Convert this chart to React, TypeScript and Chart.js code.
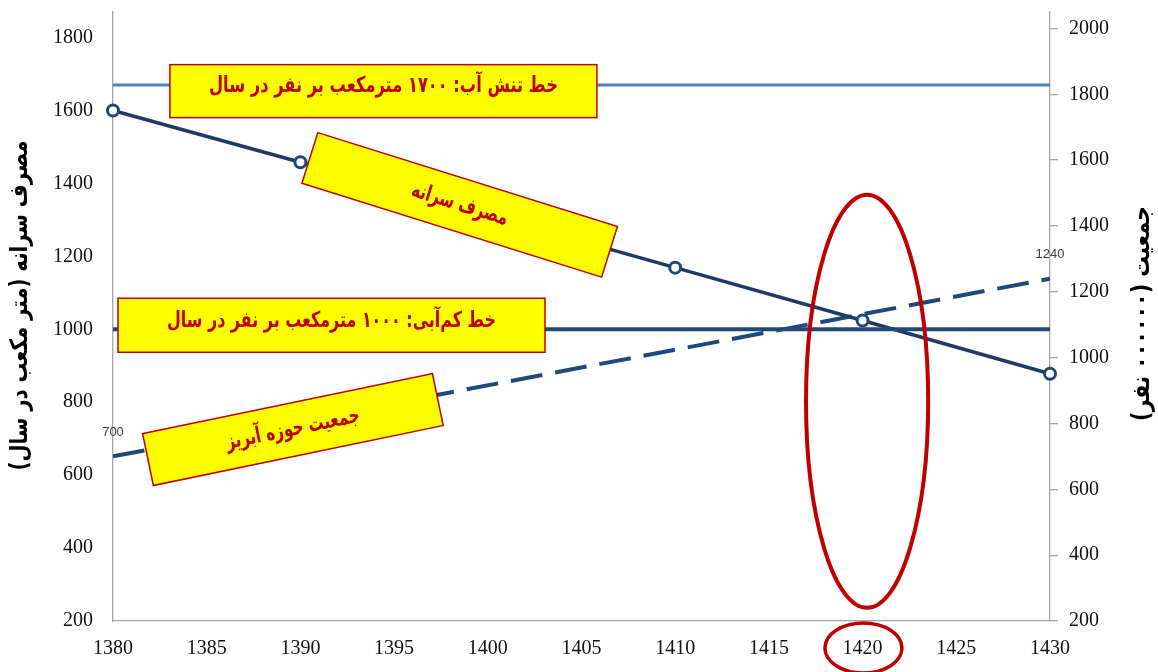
import React, { useEffect, useRef } from 'react';
import { Chart, registerables } from 'chart.js';

Chart.register(...registerables);

// ---- data ----
const consumptionYears = [1380, 1390, 1410, 1420, 1430];
const perCapita = [1600, 1458, 1169, 1024, 878];
const populationYears = [1380, 1430];
const population = [700, 1240];
const thresholdYears = [1380, 1430];
const stressLevel = [1670, 1670];
const scarcityLevel = [1000, 1000];

const xMin = 1380;
const xMax = 1430;
const xStep = 5;
const leftMin = 200;
const leftMax = 1870;
const rightMin = 200;
const rightMax = 2050;
const yStep = 200;

const leftAxisTitle = 'مصرف سرانه (متر مکعب در سال)';
const rightAxisTitle = 'جمعیت (۰۰۰۰۰۰ نفر)';
const stressText = 'خط تنش آب: ۱۷۰۰ مترمکعب بر نفر در سال';
const scarcityText = 'خط کم‌آبی: ۱۰۰۰ مترمکعب بر نفر در سال';
const perCapitaText = 'مصرف سرانه';
const populationText = 'جمعیت حوزه آبریز';

// ---- annotation layout (data-anchored) ----
const boxes = [
  { text: stressText, cx: 1394.43, cy: 1653, w: 427, h: 53, angle: 0, textW: 349, size: 22, dy: -5 },
  { text: scarcityText, cx: 1391.66, cy: 1011, w: 427, h: 54, angle: 0, textW: 329, size: 22, dy: -4 },
  { text: perCapitaText, cx: 1398.5, cy: 1341, w: 314, h: 53, angle: 17.4, textW: 100, size: 22, dy: 0 },
  { text: populationText, cx: 1389.6, cy: 725, w: 296, h: 53, angle: -11.7, textW: 136, size: 22, dy: 0 },
];
const bigEllipse = { x0: 1416.98, x1: 1423.5, y0: 236, y1: 1369 };
const smallEllipse = { x0: 1417.99, x1: 1422.1, dyCenter: 27, ry: 25 };

const NAVY = '#1f3a64';
const BLUE_DARK = '#1f497d';
const BLUE_LIGHT = '#4f81bd';
const RED = '#c00000';
const AXIS = '#a6a6a6';
const ARABIC = '"DejaVu Sans", sans-serif';
const SERIF = '"Liberation Serif", "Times New Roman", serif';

function drawFitted(ctx: CanvasRenderingContext2D, text: string, x: number, y: number, size: number, target: number) {
  ctx.font = `bold ${size}px ${ARABIC}`;
  const w = ctx.measureText(text).width;
  if (w > target) ctx.fillText(text, x, y, target);
  else ctx.fillText(text, x, y);
}

const annotationPlugin = {
  id: 'annotations',
  afterDatasetsDraw(chart: any) {
    const { ctx, scales, chartArea } = chart;
    const xs = scales.x;
    const yl = scales.y;

    // data labels on population line
    const meta = chart.getDatasetMeta(3);
    ctx.save();
    ctx.font = `13px "Liberation Sans", sans-serif`;
    ctx.fillStyle = '#404040';
    ctx.textAlign = 'center';
    ctx.textBaseline = 'middle';
    meta.data.forEach((pt: any, i: number) => {
      ctx.fillText(String(population[i]), pt.x, pt.y - 24);
    });
    ctx.restore();

    // boxes
    boxes.forEach((b) => {
      const px = xs.getPixelForValue(b.cx);
      const py = yl.getPixelForValue(b.cy);
      ctx.save();
      ctx.translate(px, py);
      ctx.rotate((b.angle * Math.PI) / 180);
      ctx.fillStyle = '#ffff00';
      ctx.fillRect(-b.w / 2, -b.h / 2, b.w, b.h);
      ctx.strokeStyle = RED;
      ctx.lineWidth = 1.5;
      ctx.strokeRect(-b.w / 2, -b.h / 2, b.w, b.h);
      ctx.fillStyle = RED;
      ctx.textAlign = 'center';
      ctx.textBaseline = 'middle';
      (ctx as any).direction = 'rtl';
      drawFitted(ctx, b.text, 0, b.dy, b.size, b.textW);
      ctx.restore();
    });

    // ellipses
    ctx.save();
    ctx.strokeStyle = RED;
    ctx.lineWidth = 4;
    const ex0 = xs.getPixelForValue(bigEllipse.x0);
    const ex1 = xs.getPixelForValue(bigEllipse.x1);
    const ey0 = yl.getPixelForValue(bigEllipse.y1);
    const ey1 = yl.getPixelForValue(bigEllipse.y0);
    ctx.beginPath();
    ctx.ellipse((ex0 + ex1) / 2, (ey0 + ey1) / 2, (ex1 - ex0) / 2, (ey1 - ey0) / 2, 0, 0, Math.PI * 2);
    ctx.stroke();
    const sx0 = xs.getPixelForValue(smallEllipse.x0);
    const sx1 = xs.getPixelForValue(smallEllipse.x1);
    ctx.lineWidth = 3.5;
    ctx.beginPath();
    ctx.ellipse((sx0 + sx1) / 2, chartArea.bottom + smallEllipse.dyCenter, (sx1 - sx0) / 2, smallEllipse.ry, 0, 0, Math.PI * 2);
    ctx.stroke();
    ctx.restore();
  },
  afterDraw(chart: any) {
    const { ctx, chartArea } = chart;
    const midY = (chartArea.top + chartArea.bottom) / 2;
    ctx.save();
    ctx.fillStyle = '#000';
    ctx.textAlign = 'center';
    ctx.textBaseline = 'middle';
    (ctx as any).direction = 'rtl';
    // left title
    ctx.save();
    ctx.translate(21, midY - 11);
    ctx.rotate(-Math.PI / 2);
    drawFitted(ctx, leftAxisTitle, 0, 0, 24, 330);
    ctx.restore();
    // right title
    ctx.save();
    ctx.translate(chartArea.right + 93, midY - 3);
    ctx.rotate(-Math.PI / 2);
    drawFitted(ctx, rightAxisTitle, 0, 0, 24, 215);
    ctx.restore();
    ctx.restore();
  },
};

const noPadding = (s: any) => {
  s.paddingTop = 0;
  s.paddingBottom = 0;
  s.paddingLeft = 0;
  s.paddingRight = 0;
};

export default function App() {
  const canvasRef = useRef<HTMLCanvasElement | null>(null);

  useEffect(() => {
    const canvas = canvasRef.current;
    if (!canvas) return;
    const tickFont = { family: SERIF, size: 20 };
    const chart = new Chart(canvas, {
      type: 'line',
      data: {
        datasets: [
          {
            label: 'stress',
            data: thresholdYears.map((x, i) => ({ x, y: stressLevel[i] })),
            yAxisID: 'y',
            borderColor: BLUE_LIGHT,
            borderWidth: 3,
            pointRadius: 0,
          },
          {
            label: 'scarcity',
            data: thresholdYears.map((x, i) => ({ x, y: scarcityLevel[i] })),
            yAxisID: 'y',
            borderColor: BLUE_DARK,
            borderWidth: 4,
            pointRadius: 0,
          },
          {
            label: 'per capita',
            data: consumptionYears.map((x, i) => ({ x, y: perCapita[i] })),
            yAxisID: 'y',
            borderColor: NAVY,
            borderWidth: 3.5,
            pointRadius: 5.5,
            pointBorderWidth: 3,
            pointBorderColor: BLUE_DARK,
            pointBackgroundColor: '#ffffff',
            clip: false,
          },
          {
            label: 'population',
            data: populationYears.map((x, i) => ({ x, y: population[i] })),
            yAxisID: 'y1',
            borderColor: BLUE_DARK,
            borderWidth: 4,
            borderDash: [32, 13],
            pointRadius: 0,
          },
        ],
      },
      options: {
        animation: false,
        responsive: false,
        maintainAspectRatio: false,
        layout: { padding: { top: 12, left: 0, right: 0, bottom: 0 } },
        plugins: { legend: { display: false }, tooltip: { enabled: false } },
        scales: {
          x: {
            type: 'linear',
            min: xMin,
            max: xMax,
            ticks: { stepSize: xStep, font: tickFont, color: '#111', padding: 16, callback: (v: any) => String(v) },
            grid: { display: false, drawTicks: false },
            border: { color: AXIS, width: 1.3 },
            afterFit: (s: any) => { s.height = 51; noPadding(s); },
          },
          y: {
            type: 'linear',
            position: 'left',
            min: leftMin,
            max: leftMax,
            ticks: { stepSize: yStep, includeBounds: false, font: tickFont, color: '#111', padding: 20, callback: (v: any) => String(v) },
            grid: { display: false, drawTicks: false },
            border: { color: AXIS, width: 1.3 },
            afterFit: (s: any) => { s.width = 113; noPadding(s); },
          },
          y1: {
            type: 'linear',
            position: 'right',
            min: rightMin,
            max: rightMax,
            ticks: { stepSize: yStep, includeBounds: false, font: tickFont, color: '#111', padding: 11, callback: (v: any) => String(v) },
            grid: { drawOnChartArea: false, drawTicks: true, tickLength: 8, color: AXIS, lineWidth: 1.3 },
            border: { color: AXIS, width: 1.3 },
            afterFit: (s: any) => { s.width = 108; noPadding(s); },
          },
        },
      } as any,
      plugins: [annotationPlugin],
    });
    return () => chart.destroy();
  }, []);

  return (
    <div style={{ position: 'absolute', left: 0, top: 0, width: 1158, height: 672, background: '#fff' }}>
      <canvas ref={canvasRef} width={1158} height={672} style={{ display: 'block' }} />
    </div>
  );
}
